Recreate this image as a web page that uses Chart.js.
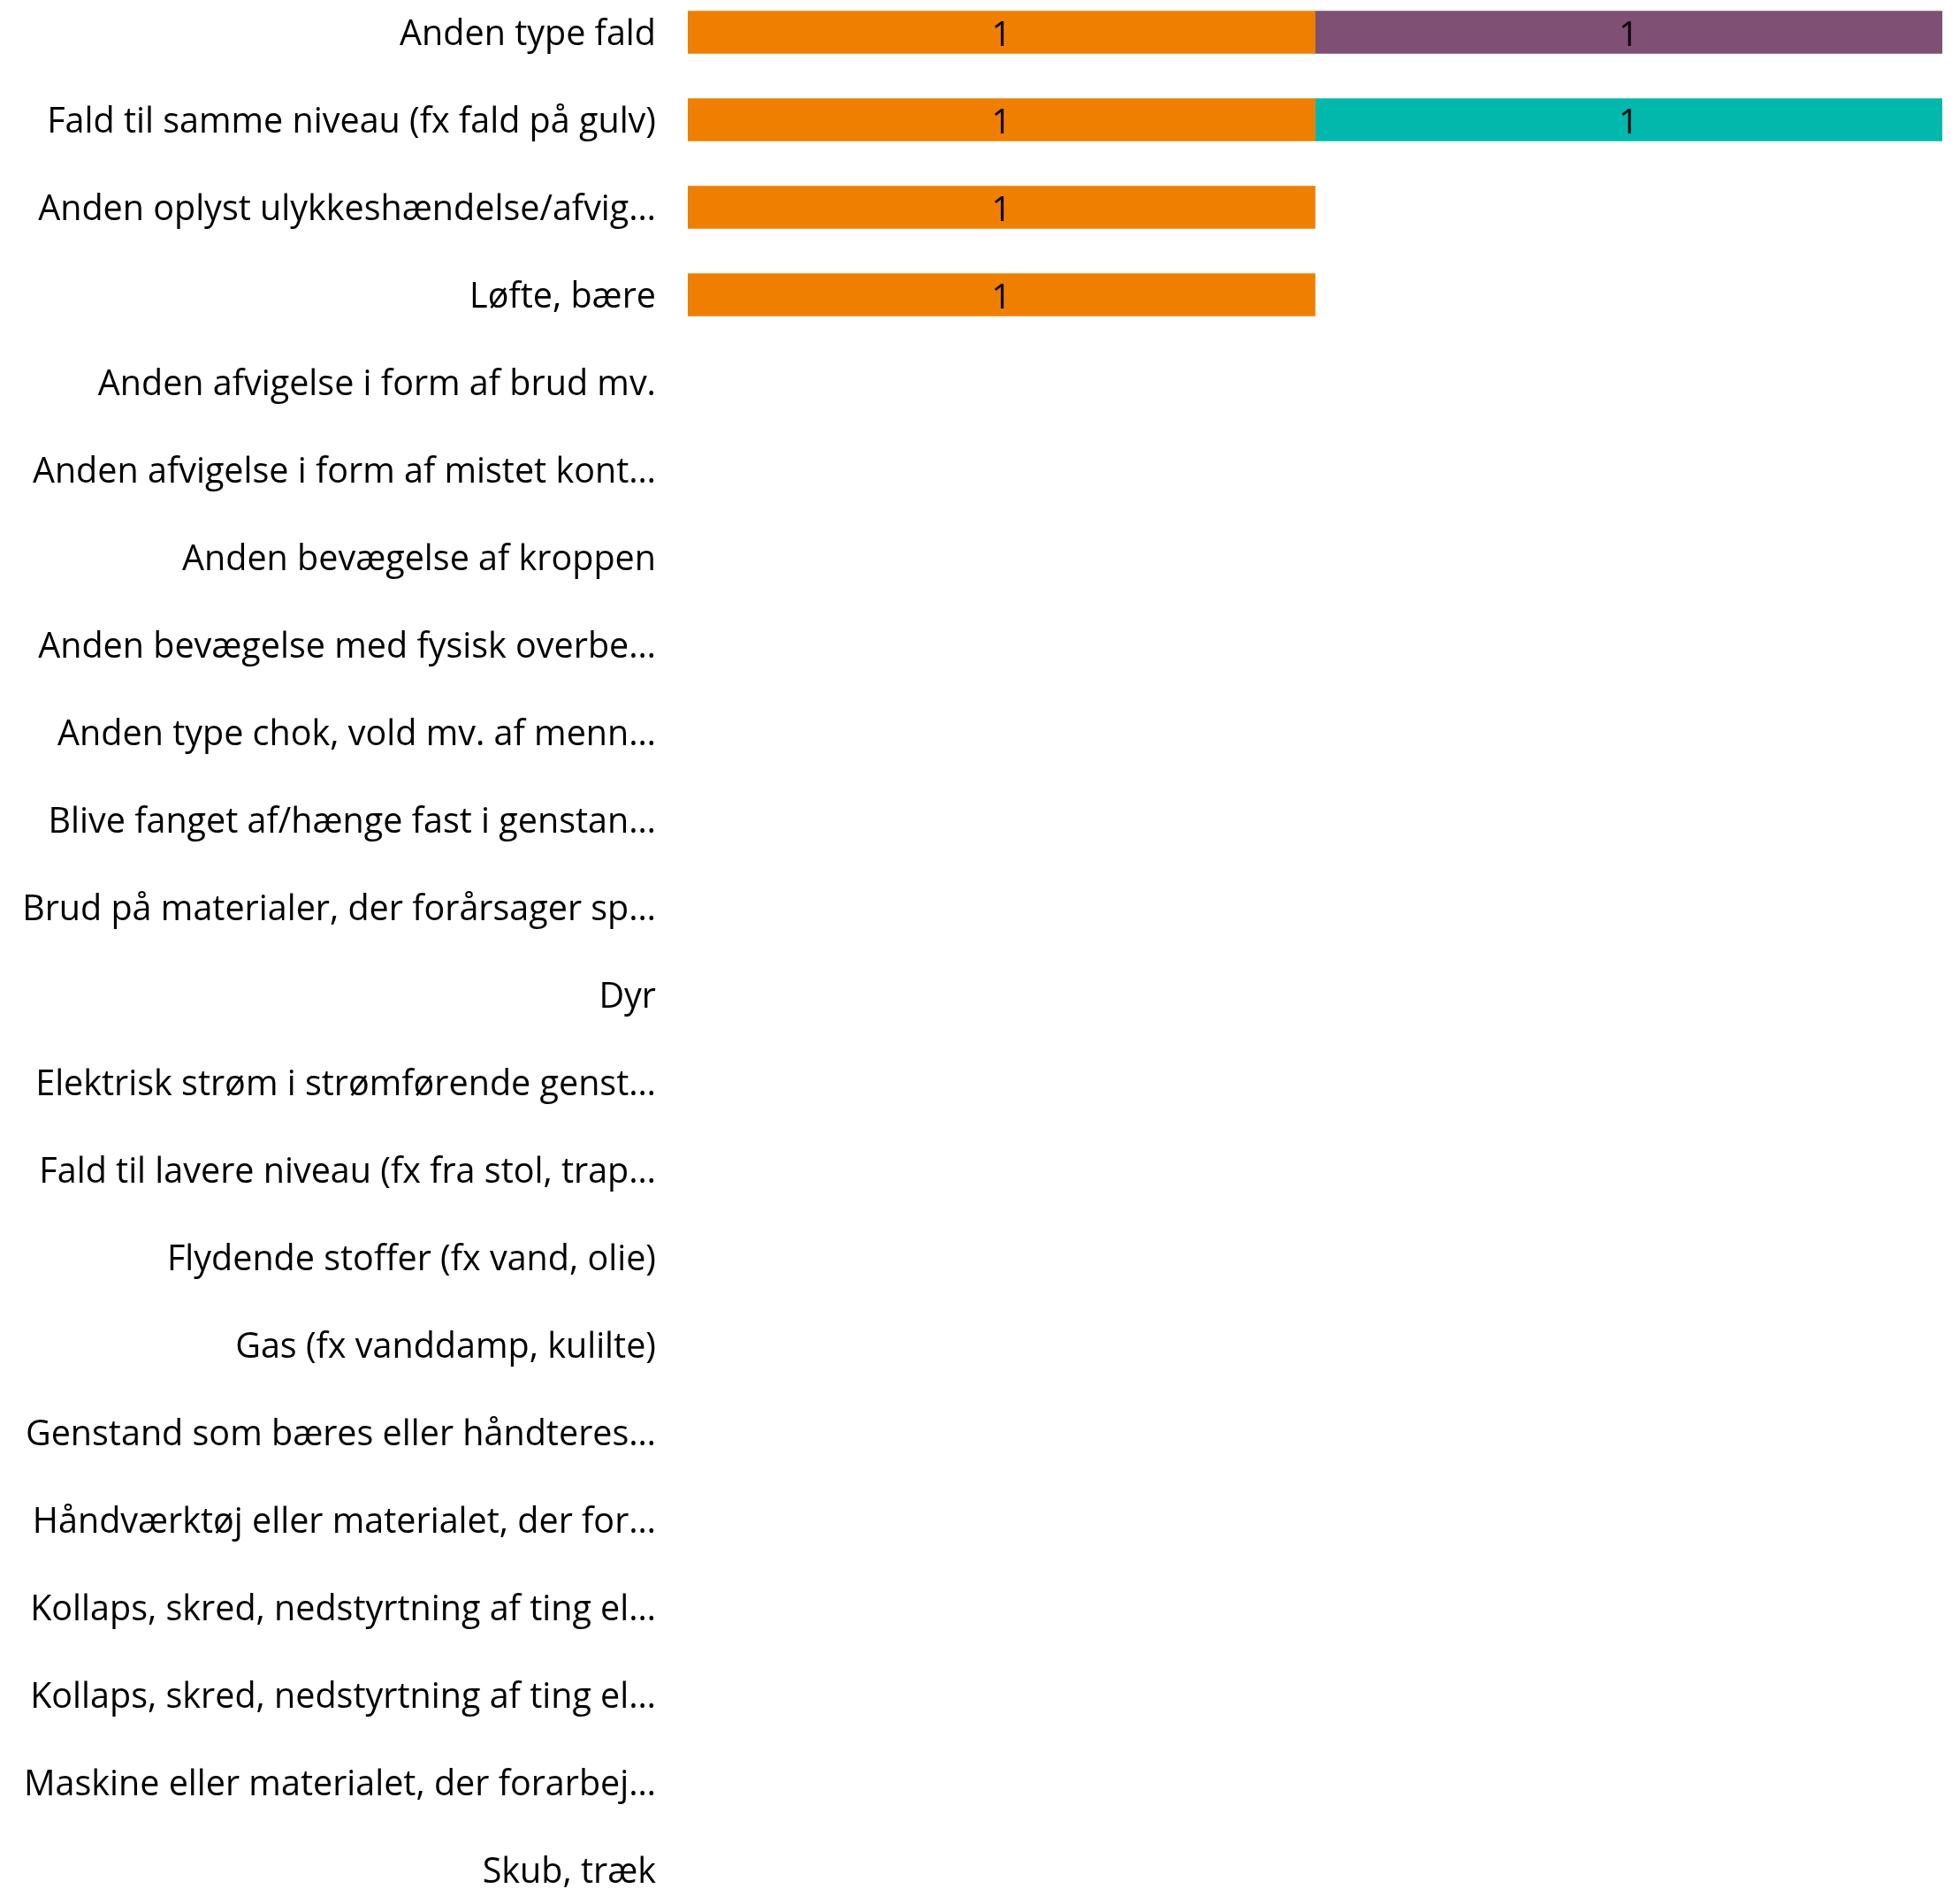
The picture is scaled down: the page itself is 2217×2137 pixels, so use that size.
<!DOCTYPE html>
<html>
<head>
<meta charset="utf-8">
<script src="https://cdn.jsdelivr.net/npm/chart.js@4.4.0/dist/chart.umd.min.js"></script>
<style>
  html, body { margin: 0; padding: 0; background: #fff; overflow: hidden; }
  body { width: 2217px; height: 2137px; position: relative; }
  #wrap { position: absolute; left: 0; top: -13px; width: 2217px; height: 2178px; }
</style>
</head>
<body>
<div id="wrap"><canvas id="barChart"></canvas></div>
<script>
// ===================
// Data
// ===================
const categories = [
  'Anden type fald',
  'Fald til samme niveau (fx fald på gulv)',
  'Anden oplyst ulykkeshændelse/afvig…',
  'Løfte, bære',
  'Anden afvigelse i form af brud mv.',
  'Anden afvigelse i form af mistet kont…',
  'Anden bevægelse af kroppen',
  'Anden bevægelse med fysisk overbe…',
  'Anden type chok, vold mv. af menn…',
  'Blive fanget af/hænge fast i genstan…',
  'Brud på materialer, der forårsager sp…',
  'Dyr',
  'Elektrisk strøm i strømførende genst…',
  'Fald til lavere niveau (fx fra stol, trap…',
  'Flydende stoffer (fx vand, olie)',
  'Gas (fx vanddamp, kulilte)',
  'Genstand som bæres eller håndteres…',
  'Håndværktøj eller materialet, der for…',
  'Kollaps, skred, nedstyrtning af ting el…',
  'Kollaps, skred, nedstyrtning af ting el…',
  'Maskine eller materialet, der forarbej…',
  'Skub, træk'
];

const seriesOrange = [1, 1, 1, 1, null, null, null, null, null, null, null, null, null, null, null, null, null, null, null, null, null, null];
const seriesPurple = [1, null, null, null, null, null, null, null, null, null, null, null, null, null, null, null, null, null, null, null, null, null];
const seriesTeal   = [null, 1, null, null, null, null, null, null, null, null, null, null, null, null, null, null, null, null, null, null, null, null];

const FONT = "'Open Sans', 'Noto Sans', sans-serif";

// ===================
// Value labels inside bars
// ===================
const barValues = {
  id: 'barValues',
  afterDatasetsDraw(chart) {
    const c = chart.ctx;
    c.save();
    c.font = '39px ' + FONT;
    c.fillStyle = '#000';
    c.textAlign = 'center';
    c.textBaseline = 'middle';
    chart.data.datasets.forEach((ds, i) => {
      chart.getDatasetMeta(i).data.forEach((bar, j) => {
        const v = ds.data[j];
        if (v == null) return;
        const p = bar.getProps(['x', 'y', 'base'], true);
        c.fillText(String(v), (p.x + p.base) / 2, p.y + 4);
      });
    });
    c.restore();
  }
};

const ctx = document.getElementById('barChart').getContext('2d');

new Chart(ctx, {
  type: 'bar',
  data: {
    labels: categories,
    datasets: [
      { data: seriesOrange, backgroundColor: '#EF7F00', barThickness: 48 },
      { data: seriesPurple, backgroundColor: '#7F5074', barThickness: 48 },
      { data: seriesTeal,   backgroundColor: '#02B8AD', barThickness: 48 }
    ]
  },
  options: {
    indexAxis: 'y',
    responsive: true,
    maintainAspectRatio: false,
    animation: false,
    layout: { padding: { left: 0, right: 20, top: 0, bottom: 0 } },
    plugins: {
      legend: { display: false },
      tooltip: { enabled: false }
    },
    scales: {
      x: {
        stacked: true,
        min: 0,
        max: 2,
        display: false
      },
      y: {
        stacked: true,
        grid: { display: false, drawTicks: false },
        border: { display: false },
        ticks: {
          color: '#000',
          padding: 36,
          labelOffset: 3,
          autoSkip: false,
          font: { family: FONT, size: 39.5 }
        },
        afterFit(scale) {
          // fixed label column, no extra padding above/below the rows
          scale.width = 778;
          scale.paddingTop = 0;
          scale.paddingBottom = 0;
        }
      }
    }
  },
  plugins: [barValues]
});
</script>
</body>
</html>
